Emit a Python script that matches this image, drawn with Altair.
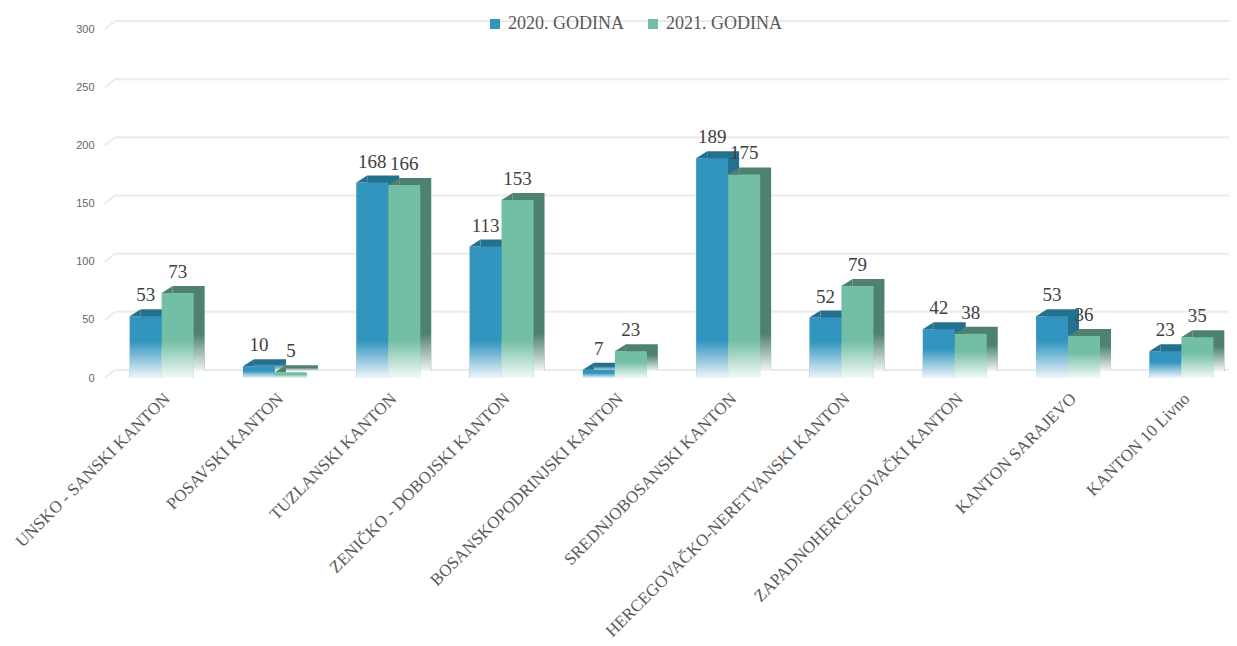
import altair as alt
import pandas as pd

cantons = [
    "UNSKO - SANSKI KANTON",
    "POSAVSKI KANTON",
    "TUZLANSKI KANTON",
    "ZENIČKO - DOBOJSKI KANTON",
    "BOSANSKOPODRINJSKI KANTON",
    "SREDNJOBOSANSKI KANTON",
    "HERCEGOVAČKO-NERETVANSKI KANTON",
    "ZAPADNOHERCEGOVAČKI KANTON",
    "KANTON SARAJEVO",
    "KANTON 10 Livno",
]
v2020 = [53, 10, 168, 113, 7, 189, 52, 42, 53, 23]
v2021 = [73, 5, 166, 153, 23, 175, 79, 38, 36, 35]
series = ["2020. GODINA", "2021. GODINA"]
front_colors = ["#3195bf", "#73bfa6"]
side_colors = ["#24708f", "#4e826e"]
y_ticks = [0, 50, 100, 150, 200, 250, 300]

rows = []
for i, c in enumerate(cantons):
    for s, vals, dc in zip(series, [v2020, v2021], side_colors):
        rows.append({"canton": c, "serie": s, "v": vals[i], "dcol": dc})
df = pd.DataFrame(rows)
ticks = pd.DataFrame({"t": y_ticks})

PLOT_W = 1110
PLOT_H = 349
SERIF = "Liberation Serif"
DEPTH_X = 11

yscale = alt.Scale(domain=[0, 300], nice=False)
xenc = alt.X(
    "canton:N",
    sort=cantons,
    title=None,
    scale=alt.Scale(range=[0, 1133], paddingInner=0.435, paddingOuter=0.2175),
    axis=alt.Axis(labelAngle=-45, labelPadding=12, labelFont=SERIF,
                  labelFontSize=17, labelColor="#595959", domain=False,
                  ticks=False, labelLimit=400),
)
xoff = alt.XOffset("serie:N", sort=series)
xoff_depth = alt.XOffset("serie:N", sort=series,
                         scale=alt.Scale(range=[DEPTH_X, 64 + DEPTH_X]))
yenc = alt.Y("v:Q", scale=yscale, title=None)

fade = alt.Gradient(
    gradient="linear",
    stops=[
        alt.GradientStop(color="rgba(255,255,255,0)", offset=0),
        alt.GradientStop(color="rgba(255,255,255,0.92)", offset=1),
    ],
    x1=0, x2=0, y1=0, y2=1,
)

grid = alt.Chart(ticks).mark_rule(color="#ebebeb", strokeWidth=2, yOffset=-8).encode(
    y=alt.Y("t:Q", scale=yscale, title=None),
    x=alt.value(10),
    x2=alt.value(PLOT_W + 20),
)
grid_slant = alt.Chart(ticks).mark_rule(color="#ebebeb", strokeWidth=2, y2Offset=-8).encode(
    y=alt.Y("t:Q", scale=yscale, title=None),
    y2=alt.Y2("t:Q"),
    x=alt.value(0),
    x2=alt.value(10),
)

base = alt.Chart(df).transform_calculate(fadev="min(datum.v * 0.6, 32)")

depth = base.mark_bar(yOffset=-7).encode(
    x=xenc, xOffset=xoff_depth, y=yenc,
    fill=alt.Fill("dcol:N", scale=None, legend=None),
)
depth_fade = base.mark_bar(yOffset=-7, color=fade).encode(
    x=xenc, xOffset=xoff_depth, y=alt.Y("fadev:Q", scale=yscale, title=None),
)
depth_layer = alt.layer(depth, depth_fade)

front = base.mark_bar().encode(
    x=xenc, xOffset=xoff, y=yenc,
    color=alt.Color("serie:N", sort=series,
                    scale=alt.Scale(domain=series, range=front_colors),
                    legend=alt.Legend(title=None, orient="none", legendX=381, legendY=-14,
                                      direction="horizontal", symbolType="square",
                                      symbolSize=100, labelFont=SERIF, labelFontSize=18,
                                      labelColor="#595959", columnPadding=20,
                                      symbolStrokeWidth=0)),
)
# top-left bevel of the 3D top face
bevel = base.mark_point(
    shape="M -1 0 L -0.3125 -0.4375 L -0.3125 0 Z",
    size=1024, filled=True, opacity=1, strokeWidth=0,
).encode(
    x=xenc, xOffset=xoff, y=yenc,
    fill=alt.Fill("dcol:N", scale=None, legend=None),
)
front_fade = base.mark_bar(color=fade).encode(
    x=xenc, xOffset=xoff, y=alt.Y("fadev:Q", scale=yscale, title=None),
)
labels = base.mark_text(dy=-15, baseline="alphabetic", font=SERIF, fontSize=19,
                        color="#404040").encode(
    x=xenc, xOffset=xoff, y=yenc, text="v:Q",
)
front_layer = alt.layer(front, bevel, front_fade, labels)

chart = alt.layer(grid, grid_slant, depth_layer, front_layer).resolve_scale(
    xOffset="independent"
).properties(
    width=PLOT_W,
    height=PLOT_H,
    autosize=alt.AutoSizeParams(type="none"),
    padding={"left": 97, "top": 21, "right": 14, "bottom": 262},
).configure_view(stroke=None).configure_axisY(
    grid=False, domain=False, ticks=False, labelFont="Liberation Sans",
    labelFontSize=11, labelColor="#666666", labelPadding=11, values=y_ticks,
).configure_axisX(grid=False)

chart.save("out.html", embed_options={"renderer": "svg", "actions": False})
